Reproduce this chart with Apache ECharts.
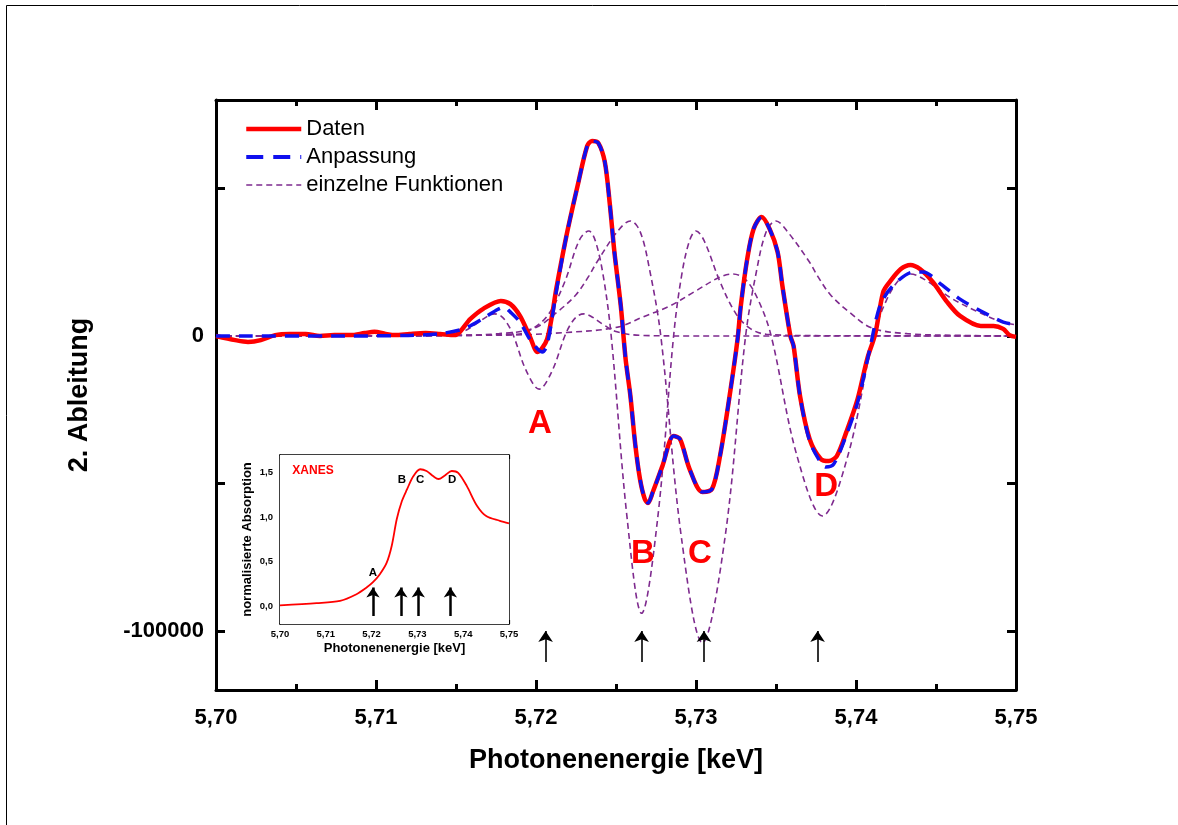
<!DOCTYPE html>
<html>
<head>
<meta charset="utf-8">
<script src="https://cdn.jsdelivr.net/npm/echarts@6/dist/echarts.min.js"></script>
<style>
html,body{margin:0;padding:0;background:#fff;}
#chart{width:1178px;height:825px;}
</style>
</head>
<body>
<div id="chart"></div>
<script>
// ---------- data ----------
const xTickLabels = ['5,70','5,71','5,72','5,73','5,74','5,75'];
const yTickValues = [-100000, -50000, 0, 50000];
const yLabelValues = [-100000, 0];

const datenX = [5.7000,5.7012,5.7020,5.7028,5.7037,5.7046,5.7056,5.7065,5.7074,5.7084,5.7093,5.7099,5.7106,5.7112,5.7121,5.7131,5.7140,5.7149,5.7159,5.7167,5.7178,5.7184,5.7190,5.7196,5.7201,5.7207,5.7213,5.7219,5.7226,5.7232,5.7235,5.7239,5.7243,5.7246,5.7249,5.7253,5.7256,5.7259,5.7262,5.7265,5.7268,5.7270,5.7273,5.7279,5.7286,5.7290,5.7296,5.7304,5.7310,5.7315,5.7321,5.7326,5.7328,5.7332,5.7336,5.7341,5.7346,5.7351,5.7354,5.7359,5.7361,5.7365,5.7371,5.7378,5.7383,5.7388,5.7394,5.7401,5.7407,5.7412,5.7417,5.7421,5.7428,5.7434,5.7440,5.7448,5.7457,5.7465,5.7478,5.7486,5.7492,5.7496,5.7500];
const datenY = [0,-1400,-2000,-1400,300,700,700,0,300,300,1000,1400,700,300,700,1000,700,300,5800,9200,11900,10800,6800,0,-5400,-1000,17000,33900,50900,64400,66100,65400,59000,45400,28500,10200,-7800,-20300,-36600,-48500,-55300,-56600,-52900,-44100,-33900,-34900,-45100,-52900,-51900,-40700,-20300,-1000,10200,26100,36300,40300,36300,28500,17000,0,-3400,-20300,-34900,-41700,-42400,-40700,-32500,-21400,-7800,700,14900,18300,22700,24100,22700,18300,11500,6800,3400,3400,2400,300,-300];

const fitX = [5.7000,5.7080,5.7120,5.7140,5.7155,5.7167,5.7176,5.7180,5.7184,5.7190,5.7196,5.7201,5.7204,5.7207,5.7213,5.7219,5.7226,5.7232,5.7235,5.7239,5.7243,5.7246,5.7249,5.7253,5.7256,5.7259,5.7262,5.7265,5.7268,5.7270,5.7273,5.7279,5.7286,5.7290,5.7296,5.7304,5.7310,5.7315,5.7321,5.7326,5.7328,5.7332,5.7336,5.7341,5.7346,5.7351,5.7354,5.7359,5.7361,5.7365,5.7371,5.7378,5.7381,5.7386,5.7394,5.7401,5.7407,5.7409,5.7415,5.7423,5.7436,5.7442,5.7453,5.7465,5.7478,5.7492,5.7500];
const fitY = [0,0,200,800,2500,6000,9000,9800,8100,4700,-1000,-4400,-5400,-3000,16000,33900,50900,64400,66100,65400,59000,45400,28500,10200,-7800,-20300,-36600,-48500,-55300,-56600,-52900,-44100,-33900,-34900,-45100,-52900,-51900,-40700,-20300,-1000,10200,26100,36300,40300,36300,28500,17000,0,-3400,-20300,-35500,-43000,-44400,-43500,-33500,-22500,-8500,-3400,10200,17000,21700,21700,17600,12500,8500,4700,3900];

const funcAX = [5.7000,5.7100,5.7138,5.7154,5.7162,5.7170,5.7174,5.7178,5.7182,5.7186,5.7194,5.7202,5.7210,5.7218,5.7222,5.7226,5.7230,5.7234,5.7242,5.7250,5.7266,5.7300,5.7500];
const funcAY = [0,0,200,1500,3900,6800,7500,6800,4300,0,-11900,-18000,-11900,0,4300,6800,7500,6800,3900,1500,200,0,0];

const funcBX = [5.7000,5.7120,5.7188,5.7198,5.7208,5.7218,5.7227,5.7233,5.7237,5.7242,5.7247,5.7257,5.7266,5.7276,5.7286,5.7291,5.7296,5.7300,5.7305,5.7315,5.7325,5.7334,5.7344,5.7380,5.7500];
const funcBY = [0,100,600,2500,7500,18400,32400,35600,32400,20500,0,-62000,-94000,-62000,0,20500,32400,35600,32400,18400,7500,2500,600,100,0];

const funcCX = [5.7000,5.7143,5.7177,5.7199,5.7213,5.7225,5.7233,5.7238,5.7251,5.7259,5.7265,5.7271,5.7278,5.7291,5.7304,5.7318,5.7331,5.7338,5.7344,5.7350,5.7357,5.7371,5.7376,5.7384,5.7396,5.7410,5.7432,5.7466,5.7500];
const funcCY = [0,200,800,2700,8000,14000,20300,25000,35500,39000,35500,22500,0,-68800,-104000,-68800,0,22500,35500,39000,35500,25000,20300,14000,8000,2700,800,200,0];

const funcDX = [5.7000,5.7180,5.7219,5.7251,5.7267,5.7283,5.7299,5.7315,5.7323,5.7331,5.7339,5.7347,5.7363,5.7379,5.7395,5.7411,5.7419,5.7427,5.7434,5.7443,5.7459,5.7475,5.7491,5.7500];
const funcDY = [0,300,1200,3000,6500,10000,15000,20000,21000,19100,12100,0,-40400,-61000,-40400,0,12100,19100,21000,19100,13000,8500,4800,3800];

const arrowE = [5.7206, 5.7266, 5.7305, 5.7376];
const arrowTail = -110500;
const arrowTip = -100000;

const peakNames = ['A','B','C','D'];
const peakLabelX = [5.72025, 5.72669, 5.73025, 5.73813];
const peakLabelY = [-29800, -73900, -73900, -51200];

// inset (XANES)
const xanesX = [5.700,5.708,5.7131,5.7167,5.7189,5.7203,5.7218,5.7233,5.7244,5.7255,5.7266,5.7277,5.7291,5.7306,5.7320,5.7335,5.7346,5.7360,5.7375,5.7389,5.7408,5.7430,5.7451,5.7480,5.7500];
const xanesY = [0.01,0.034,0.06,0.135,0.21,0.27,0.36,0.49,0.68,0.98,1.18,1.31,1.46,1.54,1.52,1.46,1.43,1.47,1.52,1.50,1.35,1.13,1.01,0.96,0.93];
const insetArrowE = [5.7203, 5.7264, 5.7302, 5.7372];
const insetArrowTail = -0.11;
const insetArrowTip = 0.21;
const insetLabelX = [5.7203, 5.7266, 5.7306, 5.7376];
const insetLabelY = [0.38, 1.42, 1.42, 1.42];
const insetTickValues = [0, 0.5, 1.0, 1.5];

// ---------- chart ----------
const zip = (xs, ys) => xs.map((x, i) => [x, ys[i]]);
const FONT = 'Liberation Sans, Arial, sans-serif';
const fmtX = v => v.toFixed(2).replace('.', ',');

const purple = '#7e2a8e';
const red = '#ff0000';
const blue = '#1010ee';
function funcSeries(xs, ys) {
  return {
    name: 'einzelne Funktionen', type: 'line', xAxisIndex: 0, yAxisIndex: 0,
    data: zip(xs, ys), symbol: 'none', showSymbol: false, smooth: 0.35, z: 2,
    lineStyle: { color: purple, width: 1.6, type: [6, 4] },
    itemStyle: { color: purple }
  };
}

function mainX(pos, showLabel) {
  return {
    type: 'value', gridIndex: 0, position: pos, min: 5.70, max: 5.75, interval: 0.01,
    axisLine: { show: true, onZero: false, lineStyle: { color: '#000', width: 3 } },
    axisTick: { show: true, inside: true, length: 10, lineStyle: { color: '#000', width: 3 } },
    minorTick: { show: true, splitNumber: 2, length: 6, lineStyle: { color: '#000', width: 3 } },
    splitLine: { show: false }, minorSplitLine: { show: false },
    axisLabel: { show: showLabel, formatter: fmtX, fontSize: 22, fontWeight: 'bold', color: '#000', fontFamily: FONT, margin: 17 },
    name: showLabel ? 'Photonenenergie [keV]' : '', nameLocation: 'middle', nameGap: 57,
    nameTextStyle: { fontSize: 27, fontWeight: 'bold', color: '#000', fontFamily: FONT }
  };
}
function mainY(pos, showLabel) {
  return {
    type: 'value', gridIndex: 0, position: pos, min: -120000, max: 80000,
    axisLine: { show: true, onZero: false, lineStyle: { color: '#000', width: 3 } },
    axisTick: { show: true, inside: true, length: 9, customValues: yTickValues, lineStyle: { color: '#000', width: 3 } },
    splitLine: { show: false },
    axisLabel: { show: showLabel, customValues: yLabelValues, formatter: v => String(v), fontSize: 22, fontWeight: 'bold', color: '#000', fontFamily: FONT, margin: 12 },
    name: showLabel ? '2. Ableitung' : '', nameLocation: 'middle', nameGap: 123, nameRotate: 90,
    nameTextStyle: { fontSize: 27, fontWeight: 'bold', color: '#000', fontFamily: FONT }
  };
}
function insetX(pos, showLabel) {
  return {
    type: 'value', gridIndex: 1, position: pos, min: 5.70, max: 5.75, interval: 0.01,
    axisLine: { show: true, onZero: false, lineStyle: { color: '#000', width: 1.5 } },
    axisTick: { show: true, inside: true, length: 4, lineStyle: { color: '#000', width: 1.2 } },
    minorTick: { show: true, splitNumber: 2, length: 2.5, lineStyle: { color: '#000', width: 1 } },
    splitLine: { show: false },
    axisLabel: { show: showLabel, formatter: fmtX, fontSize: 9.5, fontWeight: 'bold', color: '#000', fontFamily: FONT, margin: 5 },
    name: showLabel ? 'Photonenenergie [keV]' : '', nameLocation: 'middle', nameGap: 18,
    nameTextStyle: { fontSize: 13, fontWeight: 'bold', color: '#000', fontFamily: FONT }
  };
}
function insetY(pos, showLabel) {
  return {
    type: 'value', gridIndex: 1, position: pos, min: -0.2, max: 1.7,
    axisLine: { show: true, onZero: false, lineStyle: { color: '#000', width: 1.5 } },
    axisTick: { show: true, inside: true, length: 4, customValues: insetTickValues, lineStyle: { color: '#000', width: 1.2 } },
    splitLine: { show: false },
    axisLabel: { show: showLabel, customValues: insetTickValues, formatter: v => v.toFixed(1).replace('.', ','), fontSize: 9.5, fontWeight: 'bold', color: '#000', fontFamily: FONT, margin: 7 },
    name: showLabel ? 'normalisierte Absorption' : '', nameLocation: 'middle', nameGap: 26, nameRotate: 90,
    nameTextStyle: { fontSize: 13, fontWeight: 'bold', color: '#000', fontFamily: FONT }
  };
}

const chart = echarts.init(document.getElementById('chart'), null, { renderer: 'canvas' });
const option = {
  animation: false,
  backgroundColor: '#fff',
  textStyle: { fontFamily: FONT },
  grid: [
    { left: 216, right: 162, top: 100, bottom: 135, containLabel: false },
    { left: 280, top: 455, width: 229, height: 169, show: true, backgroundColor: '#fff', borderWidth: 0, z: 3 }
  ],
  legend: {
    data: [
      { name: 'Daten', lineStyle: { color: red, width: 4.5, type: 'solid' } },
      { name: 'Anpassung', lineStyle: { color: blue, width: 4, type: [17, 10] } },
      { name: 'einzelne Funktionen', lineStyle: { color: purple, width: 1.6, type: [6, 4] } }
    ],
    orient: 'vertical', left: 239, top: 113, itemWidth: 55, itemHeight: 20, itemGap: 6,
    itemStyle: { opacity: 0 },
    textStyle: { fontSize: 22, color: '#000', fontFamily: FONT, lineHeight: 20 },
    selectedMode: false
  },
  xAxis: [mainX('bottom', true), mainX('top', false), insetX('bottom', true), insetX('top', false)],
  yAxis: [mainY('left', true), mainY('right', false), insetY('left', true), insetY('right', false)],
  series: [
    funcSeries(funcAX, funcAY),
    funcSeries(funcBX, funcBY),
    funcSeries(funcCX, funcCY),
    funcSeries(funcDX, funcDY),
    {
      name: 'Daten', type: 'line', xAxisIndex: 0, yAxisIndex: 0, data: zip(datenX, datenY),
      symbol: 'none', showSymbol: false, smooth: 0.3, z: 3,
      lineStyle: { color: red, width: 4.5 }, itemStyle: { color: red }
    },
    {
      name: 'Anpassung', type: 'line', xAxisIndex: 0, yAxisIndex: 0, data: zip(fitX, fitY),
      symbol: 'none', showSymbol: false, smooth: 0.3, z: 4,
      lineStyle: { color: blue, width: 3.5, type: [14, 9] }, itemStyle: { color: blue }
    },
    {
      name: 'arrows', type: 'lines', coordinateSystem: 'cartesian2d', xAxisIndex: 0, yAxisIndex: 0,
      data: arrowE.map(e => ({ coords: [[e, arrowTail], [e, arrowTip]] })),
      symbol: ['none', 'arrow'], symbolSize: 11, z: 5,
      lineStyle: { color: '#000', width: 1.6, opacity: 1, curveness: 0 }
    },
    {
      name: 'peakLabels', type: 'scatter', xAxisIndex: 0, yAxisIndex: 0,
      data: peakNames.map((n, i) => [peakLabelX[i], peakLabelY[i], n]),
      symbolSize: 0, z: 6, itemStyle: { opacity: 1 },
      label: { show: true, position: 'inside', opacity: 1, formatter: p => p.value[2], color: red, fontSize: 33, fontWeight: 'bold', fontFamily: FONT }
    },
    {
      name: 'XANES', type: 'line', xAxisIndex: 2, yAxisIndex: 2, data: zip(xanesX, xanesY),
      symbol: 'none', showSymbol: false, smooth: 0.3, z: 10,
      lineStyle: { color: red, width: 1.8 }
    },
    {
      name: 'insetArrows', type: 'lines', coordinateSystem: 'cartesian2d', xAxisIndex: 2, yAxisIndex: 2,
      data: insetArrowE.map(e => ({ coords: [[e, insetArrowTail], [e, insetArrowTip]] })),
      symbol: ['none', 'arrow'], symbolSize: 10, z: 10,
      lineStyle: { color: '#000', width: 2.5, opacity: 1 }
    },
    {
      name: 'insetLabels', type: 'scatter', xAxisIndex: 2, yAxisIndex: 2,
      data: peakNames.map((n, i) => [insetLabelX[i], insetLabelY[i], n]).concat([[5.7072, 1.52, 'XANES']]),
      symbolSize: 0, z: 11, itemStyle: { opacity: 1 },
      label: {
        show: true, position: 'inside', opacity: 1, fontSize: 11.5, fontWeight: 'bold', fontFamily: FONT,
        formatter: p => p.value[2],
        color: '#000'
      }
    }
  ],
  graphic: [
    { type: 'line', shape: { x1: 6.5, y1: 5.5, x2: 1178, y2: 5.5 }, style: { stroke: '#000', lineWidth: 1 }, z: 100 },
    { type: 'line', shape: { x1: 6.5, y1: 5.5, x2: 6.5, y2: 825 }, style: { stroke: '#000', lineWidth: 1 }, z: 100 }
  ]
};
// XANES label in red
option.series[10].data = option.series[10].data.map(d => d[2] === 'XANES'
  ? { value: d, label: { color: red, fontSize: 12 } }
  : d);
chart.setOption(option);
</script>
</body>
</html>
